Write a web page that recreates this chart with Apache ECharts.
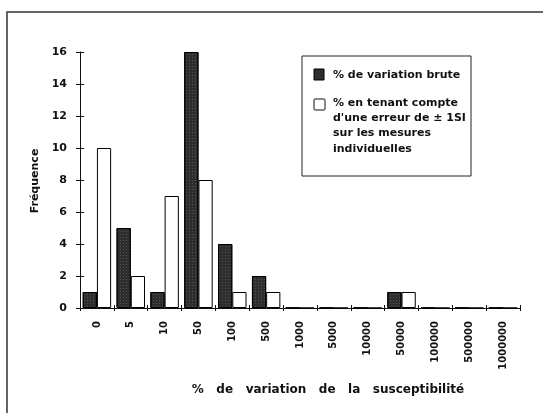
<!DOCTYPE html>
<html>
<head>
<meta charset="utf-8">
<script src="https://cdn.jsdelivr.net/npm/echarts@6/dist/echarts.min.js"></script>
<style>
html,body{margin:0;padding:0;background:#fff;}
#c{width:543px;height:413px;}
</style>
</head>
<body>
<div id="c"></div>
<script>
const categories = ['0','5','10','50','100','500','1000','5000','10000','50000','100000','500000','1000000'];
const brute = [1,5,1,16,4,2,0,0,0,1,0,0,0];
const erreur = [10,2,7,8,1,1,0,0,0,1,0,0,0];
const seriesNames = ['% de variation brute', "% en tenant compte\nd'une erreur de ± 1SI\nsur les mesures\nindividuelles"];
const yTitle = 'Fréquence';
const xTitle = '%   de   variation   de   la   susceptibilité';

const FONT = '"DejaVu Sans", sans-serif';
const chart = echarts.init(document.getElementById('c'), null, {renderer:'canvas'});
const legendLines = seriesNames[1].split('\n');

const option = {
  animation: false,
  backgroundColor: '#fff',
  grid: {left: 80, right: 23, top: 52, bottom: 105},
  xAxis: [{
    type: 'category', data: categories, boundaryGap: true,
    axisLine: {lineStyle: {color: '#111', width: 1}},
    axisTick: {show: true, inside: false, length: 3, interval: 0, lineStyle: {color: '#111'}},
    axisLabel: {rotate: 90, interval: 0, margin: 13, color: '#111', fontFamily: FONT, fontWeight: 'bold', fontSize: 10}
  }, {
    type: 'category', data: categories, boundaryGap: true, position: 'bottom',
    axisLine: {show: false},
    axisTick: {show: true, inside: true, length: 3, interval: 0, lineStyle: {color: '#111'}},
    axisLabel: {show: false}
  }],
  yAxis: [{
    type: 'value', min: 0, max: 16, interval: 2,
    axisLine: {show: true, lineStyle: {color: '#111', width: 1}},
    axisTick: {show: true, inside: false, length: 4, lineStyle: {color: '#111'}},
    splitLine: {show: false},
    axisLabel: {margin: 13, color: '#111', fontFamily: FONT, fontWeight: 'bold', fontSize: 11}
  }, {
    type: 'value', min: 0, max: 16, interval: 2, position: 'left',
    axisLine: {show: false},
    axisTick: {show: true, inside: true, length: 4, lineStyle: {color: '#111'}},
    splitLine: {show: false},
    axisLabel: {show: false}
  }],
  series: [{
    name: seriesNames[0], type: 'bar', data: brute, xAxisIndex: 0, yAxisIndex: 0,
    barGap: '0%', barCategoryGap: '16%',
    itemStyle: {color: '#2e2e2e', borderColor: '#000', borderWidth: 1,
      decal: {symbol: 'rect', symbolSize: 1, color: 'rgba(255,255,255,0.18)', dashArrayX: [1, 2], dashArrayY: [1, 2]}}
  }, {
    name: seriesNames[1], type: 'bar', data: erreur, xAxisIndex: 0, yAxisIndex: 0,
    itemStyle: {color: '#fff', borderColor: '#000', borderWidth: 1}
  }],
  graphic: [
    {type: 'rect', shape: {x: 7, y: 12, width: 600, height: 500}, style: {fill: 'none', stroke: '#333', lineWidth: 1.5}, silent: true},
    {type: 'rect', shape: {x: 302, y: 56, width: 169, height: 120}, style: {fill: '#fff', stroke: '#222', lineWidth: 1}},
    {type: 'rect', shape: {x: 314, y: 69, width: 10, height: 11}, style: {fill: '#2e2e2e', stroke: '#000', lineWidth: 1}},
    {type: 'text', x: 333, y: 75, style: {text: seriesNames[0], font: 'bold 11px ' + FONT, fill: '#111', verticalAlign: 'middle'}},
    {type: 'rect', shape: {x: 314, y: 99, width: 11, height: 11, r: 1}, style: {fill: '#fff', stroke: '#111', lineWidth: 1}},
    ...legendLines.map((t, i) => ({type: 'text', x: 333, y: 103 + i * 15.3, style: {text: t, font: 'bold 11px ' + FONT, fill: '#111', verticalAlign: 'middle'}})),
    {type: 'text', x: 35, y: 181, rotation: Math.PI / 2, style: {text: yTitle, font: 'bold 11px ' + FONT, fill: '#111', align: 'center', verticalAlign: 'middle'}},
    {type: 'text', x: 328, y: 390, style: {text: xTitle, font: 'bold 12px ' + FONT, fill: '#111', align: 'center', verticalAlign: 'middle'}}
  ]
};
chart.setOption(option);
</script>
</body>
</html>
